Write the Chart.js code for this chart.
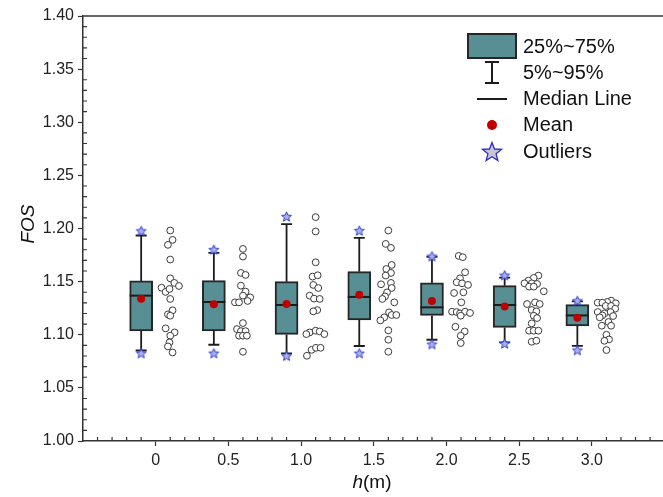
<!DOCTYPE html>
<html>
<head>
<meta charset="utf-8">
<script src="https://cdn.jsdelivr.net/npm/chart.js@4.4.1/dist/chart.umd.min.js"></script>
<style>
  html, body { margin: 0; padding: 0; background: #fff; overflow: hidden; }
  #wrap { width: 680px; height: 497px; }
</style>
</head>
<body>
<div id="wrap"><canvas id="c" width="680" height="497"></canvas></div>
<script>
// Slope height h (m) and its tick labels
const positions = [0, 0.5, 1.0, 1.5, 2.0, 2.5, 3.0];
const tickLabels = ['0', '0.5', '1.0', '1.5', '2.0', '2.5', '3.0'];
const yTicks = [1.00, 1.05, 1.10, 1.15, 1.20, 1.25, 1.30, 1.35, 1.40];

// Box statistics of FOS for each height
const q1     = [1.1035, 1.1035, 1.1003, 1.1139, 1.1182, 1.1069, 1.1082];
const q3     = [1.1507, 1.1509, 1.1500, 1.1594, 1.1488, 1.1462, 1.1283];
const median = [1.1368, 1.1308, 1.1280, 1.1356, 1.1258, 1.1280, 1.1182];
const mean   = [1.1340, 1.1286, 1.1290, 1.1377, 1.1318, 1.1267, 1.1160];
const p5     = [1.0852, 1.0906, 1.0824, 1.0894, 1.0953, 1.0928, 1.0896];
const p95    = [1.1934, 1.1771, 1.2041, 1.1912, 1.1733, 1.1538, 1.1314];
const minOut = [1.0827, 1.0827, 1.0802, 1.0827, 1.0912, 1.0918, 1.0856];
const maxOut = [1.1978, 1.1802, 1.2113, 1.1981, 1.1739, 1.1560, 1.1320];

// Individual FOS results per height
const samples = [
  [1.1981, 1.1893, 1.1846, 1.1708, 1.1531, 1.1488, 1.1459, 1.1443, 1.1403, 1.1431, 1.1337, 1.1230, 1.1192, 1.1179, 1.1060, 1.1022, 1.0991, 1.0928, 1.0890, 1.0833],
  [1.1808, 1.1736, 1.1582, 1.1563, 1.1462, 1.1406, 1.1368, 1.1352, 1.1318, 1.1305, 1.1305, 1.1110, 1.1053, 1.1034, 1.1034, 1.0991, 1.0991, 1.0991, 1.0840],
  [1.2107, 1.1972, 1.1682, 1.1547, 1.1560, 1.1469, 1.1440, 1.1368, 1.1340, 1.1337, 1.1232, 1.1220, 1.1022, 1.1038, 1.1031, 1.1006, 1.1006, 1.0802, 1.0858, 1.0877, 1.0877],
  [1.1981, 1.1855, 1.1818, 1.1657, 1.1619, 1.1582, 1.1557, 1.1488, 1.1475, 1.1440, 1.1399, 1.1361, 1.1337, 1.1305, 1.1211, 1.1186, 1.1186, 1.1164, 1.1135, 1.1041, 1.0953, 1.0840],
  [1.1742, 1.1730, 1.1588, 1.1531, 1.1494, 1.1484, 1.1469, 1.1393, 1.1399, 1.1305, 1.1217, 1.1214, 1.1201, 1.1217, 1.1205, 1.1179, 1.1075, 1.1031, 1.0991, 1.0922],
  [1.1557, 1.1535, 1.1509, 1.1484, 1.1484, 1.1478, 1.1453, 1.1453, 1.1409, 1.1289, 1.1305, 1.1289, 1.1233, 1.1220, 1.1179, 1.1157, 1.1107, 1.1038, 1.1038, 1.1038, 1.0934, 1.0944],
  [1.1321, 1.1308, 1.1302, 1.1302, 1.1296, 1.1271, 1.1271, 1.1245, 1.1214, 1.1214, 1.1201, 1.1182, 1.1176, 1.1164, 1.1120, 1.1085, 1.1085, 1.1000, 1.0956, 1.0943, 1.0856]
];
// Horizontal spread of the sample points so overlapping values stay visible
const jitter = [
  [0, .016, -.016, 0, 0, .028, .06, -.06, -.032, -.005, 0, .016, -.016, 0, -.032, .03, 0, -.005, -.016, .016],
  [0, 0, -.014, .018, -.014, .018, 0, .05, .032, -.055, -.027, 0, -.041, -.014, .018, -.027, 0, .027, 0],
  [0, 0, 0, -.021, .014, -.016, .018, -.041, -.011, .028, .011, -.016, -.041, 0, .028, .06, -.064, -.06, -.028, .002, .034],
  [0, -.018, .018, .023, -.014, .018, -.018, .018, -.05, .023, -.009, -.023, -.041, .041, .005, .023, .055, -.028, -.055, 0, 0, 0],
  [-.016, .012, .028, -.007, -.03, .007, .048, -.048, .016, .002, -.062, -.03, -.007, .028, .062, -.002, -.039, .025, -.002, -.002],
  [.032, 0, -.037, -.064, -.014, .023, -.032, 0, .069, -.046, .009, .041, -.014, .018, 0, .023, -.014, -.032, 0, .032, -.014, .018],
  [.032, .005, -.06, -.028, .064, -.005, .032, .06, -.06, .028, -.014, -.028, .046, -.046, .014, -.032, .032, 0, .018, -.014, 0]
];

const BOX_SHIFT = -0.1, PTS_SHIFT = 0.1;
const BOX_W = 23, CAP_HALF = 5.5;
const FONT = '"Liberation Sans", Arial, sans-serif';
const BOX_FILL = '#588f94', INK = '#1c1c1c', AXIS = '#333';

function makeStar(R, r, fill, stroke, lw) {
  const size = Math.ceil(R * 2 + 4);
  const c = document.createElement('canvas');
  c.width = c.height = size;
  const g = c.getContext('2d');
  const cx = size / 2, cy = size / 2 + 0.5;
  g.beginPath();
  for (let i = 0; i < 10; i++) {
    const rad = i % 2 === 0 ? R : r;
    const a = -Math.PI / 2 + i * Math.PI / 5;
    const px = cx + rad * Math.cos(a), py = cy + rad * Math.sin(a);
    if (i === 0) g.moveTo(px, py); else g.lineTo(px, py);
  }
  g.closePath();
  g.fillStyle = fill; g.fill();
  g.lineWidth = lw; g.strokeStyle = stroke; g.stroke();
  return c;
}
const starSmall = makeStar(5.2, 2.3, '#a9b0ee', '#2f3fd0', 1);
const starLegend = makeStar(10, 4.3, '#c6c6cc', '#2a2ad0', 1.3);

const boxData = positions.map((p, i) => ({ x: p + BOX_SHIFT, y: [q1[i], q3[i]] }));
const meanData = positions.map((p, i) => ({ x: p + BOX_SHIFT, y: mean[i] }));
const outData = [];
positions.forEach((p, i) => {
  outData.push({ x: p + BOX_SHIFT, y: maxOut[i] });
  outData.push({ x: p + BOX_SHIFT, y: minOut[i] });
});
const pointData = [];
samples.forEach((arr, g) => arr.forEach((v, k) => {
  pointData.push({ x: positions[g] + PTS_SHIFT + jitter[g][k], y: v });
}));

const boxParts = {
  id: 'boxParts',
  beforeDatasetsDraw(chart) {
    const { ctx, scales: { x, y } } = chart;
    ctx.save();
    ctx.strokeStyle = INK;
    ctx.lineWidth = 1.8;
    positions.forEach((p, i) => {
      const px = x.getPixelForValue(p + BOX_SHIFT);
      const lo = y.getPixelForValue(p5[i]), hi = y.getPixelForValue(p95[i]);
      const b = y.getPixelForValue(q1[i]), t = y.getPixelForValue(q3[i]);
      ctx.beginPath();
      ctx.moveTo(px, lo); ctx.lineTo(px, b);
      ctx.moveTo(px, t); ctx.lineTo(px, hi);
      ctx.moveTo(px - CAP_HALF, lo); ctx.lineTo(px + CAP_HALF, lo);
      ctx.moveTo(px - CAP_HALF, hi); ctx.lineTo(px + CAP_HALF, hi);
      ctx.stroke();
    });
    ctx.restore();
  },
  afterDatasetDraw(chart, args) {
    if (args.meta.type !== 'bar') return;
    const { ctx, scales: { x, y } } = chart;
    ctx.save();
    ctx.strokeStyle = INK;
    ctx.lineWidth = 2;
    positions.forEach((p, i) => {
      const px = x.getPixelForValue(p + BOX_SHIFT);
      const py = y.getPixelForValue(median[i]);
      ctx.beginPath();
      ctx.moveTo(px - BOX_W / 2, py); ctx.lineTo(px + BOX_W / 2, py);
      ctx.stroke();
    });
    ctx.restore();
  },
  afterDraw(chart) {
    const { ctx, chartArea: a, scales: { x, y } } = chart;
    ctx.save();
    // frame line along the top
    ctx.strokeStyle = AXIS;
    ctx.lineWidth = 1.5;
    ctx.beginPath();
    ctx.moveTo(a.left, a.top); ctx.lineTo(a.right, a.top);
    ctx.stroke();
    // minor ticks pointing inwards
    ctx.lineWidth = 1.2;
    ctx.beginPath();
    for (let k = 1; k < 40; k++) {
      if (k % 5 === 0) continue;
      const py = y.getPixelForValue(1 + k * 0.01);
      ctx.moveTo(a.left, py); ctx.lineTo(a.left + 4, py);
    }
    for (let k = -4; k < 35; k++) {
      if (k % 5 === 0) continue;
      const px = x.getPixelForValue(k * 0.1);
      ctx.moveTo(px, a.bottom); ctx.lineTo(px, a.bottom - 4);
    }
    ctx.stroke();

    // axis titles
    ctx.fillStyle = '#111';
    ctx.textBaseline = 'middle';
    ctx.save();
    ctx.translate(29, 224);
    ctx.rotate(-Math.PI / 2);
    ctx.textAlign = 'center';
    ctx.font = 'italic 19px ' + FONT;
    ctx.fillText('FOS', 0, 0);
    ctx.restore();

    ctx.textAlign = 'left';
    const fI = 'italic 19px ' + FONT, fR = '19px ' + FONT;
    ctx.font = fI; const wH = ctx.measureText('h').width;
    ctx.font = fR; const wM = ctx.measureText('(m)').width;
    const x0 = 372 - (wH + wM) / 2;
    ctx.font = fI; ctx.fillText('h', x0, 483);
    ctx.font = fR; ctx.fillText('(m)', x0 + wH, 483);

    // legend
    const lx = 492, tx = 523;
    ctx.fillStyle = BOX_FILL;
    ctx.fillRect(468, 34, 48, 24);
    ctx.strokeStyle = '#262626';
    ctx.lineWidth = 2;
    ctx.strokeRect(468, 34, 48, 24);
    ctx.strokeStyle = INK;
    ctx.lineWidth = 2;
    ctx.beginPath();
    ctx.moveTo(lx, 62); ctx.lineTo(lx, 83);
    ctx.moveTo(lx - 7, 62); ctx.lineTo(lx + 7, 62);
    ctx.moveTo(lx - 7, 83); ctx.lineTo(lx + 7, 83);
    ctx.moveTo(477, 99); ctx.lineTo(507, 99);
    ctx.stroke();
    ctx.fillStyle = '#c00000';
    ctx.beginPath(); ctx.arc(lx, 125, 5, 0, Math.PI * 2); ctx.fill();
    ctx.drawImage(starLegend, lx - starLegend.width / 2, 152 - starLegend.height / 2);
    ctx.fillStyle = '#111';
    ctx.font = '20px ' + FONT;
    ctx.fillText('25%~75%', tx, 47);
    ctx.fillText('5%~95%', tx, 73);
    ctx.fillText('Median Line', tx, 99);
    ctx.fillText('Mean', tx, 125);
    ctx.fillText('Outliers', tx, 152);
    ctx.restore();
  }
};

new Chart(document.getElementById('c'), {
  type: 'scatter',
  data: {
    datasets: [
      {
        type: 'bar', data: boxData, order: 10,
        backgroundColor: BOX_FILL, borderColor: '#262626', borderWidth: 2,
        borderSkipped: false, barThickness: BOX_W
      },
      {
        type: 'scatter', data: meanData, order: 3,
        pointRadius: 4, pointBackgroundColor: '#c00000', pointBorderWidth: 0
      },
      {
        type: 'scatter', data: outData, order: 2,
        pointStyle: starSmall, pointRadius: 5
      },
      {
        type: 'scatter', data: pointData, order: 1,
        pointRadius: 3.4, pointBorderWidth: 1, pointBorderColor: '#3a3a3a',
        pointBackgroundColor: '#ffffff'
      }
    ]
  },
  options: {
    responsive: false,
    animation: false,
    events: [],
    layout: { padding: { top: 16, right: 15.4, bottom: 0, left: 0 } },
    plugins: { legend: { display: false }, tooltip: { enabled: false } },
    scales: {
      x: {
        type: 'linear', min: -0.5, max: 3.5, offset: false,
        afterFit(s) { s.height = 56; },
        afterBuildTicks(s) { s.ticks = positions.map(v => ({ value: v })); },
        ticks: {
          callback: (v, i) => tickLabels[i],
          font: { family: FONT, size: 16 }, color: '#222', padding: 5,
          maxRotation: 0, autoSkip: false
        },
        grid: { drawOnChartArea: false, drawTicks: true, tickLength: 5, tickColor: AXIS, tickWidth: 1.2, offset: false },
        border: { display: true, color: AXIS, width: 1.5 }
      },
      y: {
        type: 'linear', min: 1.0, max: 1.4,
        afterFit(s) { s.width = 83; },
        afterBuildTicks(s) { s.ticks = yTicks.map(v => ({ value: v })); },
        ticks: {
          callback: v => Number(v).toFixed(2),
          font: { family: FONT, size: 16 }, color: '#222', padding: 4
        },
        grid: { drawOnChartArea: false, drawTicks: true, tickLength: 5, tickColor: AXIS, tickWidth: 1.2 },
        border: { display: true, color: AXIS, width: 1.5 }
      }
    }
  },
  plugins: [boxParts]
});
</script>
</body>
</html>
